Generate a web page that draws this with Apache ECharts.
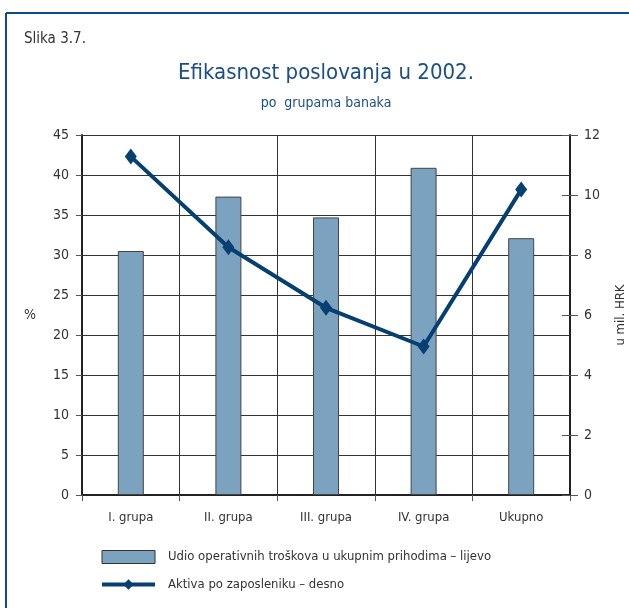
<!DOCTYPE html>
<html>
<head>
<meta charset="utf-8">
<script src="https://cdn.jsdelivr.net/npm/echarts@6/dist/echarts.min.js"></script>
<style>
html,body{margin:0;padding:0;background:#fff;}
#c{width:629px;height:608px;}
</style>
</head>
<body>
<div id="c"></div>
<script>
var categories = ['I. grupa', 'II. grupa', 'III. grupa', 'IV. grupa', 'Ukupno'];
var costShare = [30.5, 37.3, 34.7, 40.9, 32.1];
var assetsPerEmployee = [11.28, 8.26, 6.24, 4.95, 10.18];
var leftTicks = [0, 45, 5];
var rightTicks = [0, 12, 2];

var FONT = '"Liberation Sans Narrow", "DejaVu Sans Condensed", sans-serif';
var chart = echarts.init(document.getElementById('c'), null, {renderer: 'canvas'});
chart.setOption({
  animation: false,
  backgroundColor: '#fff',
  textStyle: {fontFamily: FONT},
  title: [
    {text: 'Slika 3.7.', left: 19, top: 27, textStyle: {fontFamily: FONT, fontSize: 15, fontWeight: 'normal', color: '#333'}},
    {text: 'Efikasnost poslovanja u 2002.', left: 321, textAlign: 'center', top: 57,
     textStyle: {fontFamily: FONT, fontSize: 22, fontWeight: 'normal', color: '#1a4f86'}},
    {text: 'po  grupama banaka', left: 321, textAlign: 'center', top: 91,
     textStyle: {fontFamily: FONT, fontSize: 14, fontWeight: 'normal', color: '#1a4f86'}}
  ],
  graphic: [
    {type: 'line', shape: {x1: 6, y1: 13, x2: 629, y2: 13}, style: {stroke: '#0d4a8a', lineWidth: 2}},
    {type: 'line', shape: {x1: 6, y1: 13, x2: 6, y2: 608}, style: {stroke: '#0d4a8a', lineWidth: 2}}
  ],
  grid: {left: 82, right: 59, top: 135, bottom: 113, show: false, containLabel: false, outerBoundsMode: 'none'},
  legend: {
    orient: 'vertical', left: 95, top: 545, itemWidth: 53, itemHeight: 13, itemGap: 14,
    textStyle: {fontFamily: FONT, fontSize: 13, color: '#333', padding: [0, 0, 0, 8]},
    data: [
      {name: 'Udio operativnih troškova u ukupnim prihodima – lijevo', icon: 'rect',
       itemStyle: {borderWidth: 1, borderColor: '#333'}},
      {name: 'Aktiva po zaposleniku – desno', lineStyle: {width: 4, color: '#063f72'}}
    ]
  },
  xAxis: {
    type: 'category', data: categories,
    axisLine: {lineStyle: {color: '#222', width: 2}},
    axisTick: {show: true, inside: false, length: 6, lineStyle: {color: '#555'}},
    axisLabel: {fontFamily: FONT, fontSize: 13, color: '#333', margin: 16},
    splitLine: {show: true, lineStyle: {color: '#333', width: 1}}
  },
  yAxis: [
    {
      type: 'value', min: leftTicks[0], max: leftTicks[1], interval: leftTicks[2],
      name: '%', nameLocation: 'middle', nameRotate: 0, nameGap: 46,
      nameTextStyle: {fontFamily: FONT, fontSize: 14, color: '#333'},
      axisLine: {show: true, lineStyle: {color: '#222', width: 2}},
      axisTick: {show: true, length: 6, lineStyle: {color: '#555'}},
      axisLabel: {fontFamily: FONT, fontSize: 14, color: '#333', margin: 13},
      splitLine: {show: true, lineStyle: {color: '#333', width: 1}}
    },
    {
      type: 'value', position: 'right', min: rightTicks[0], max: rightTicks[1], interval: rightTicks[2],
      name: 'u mil. HRK', nameLocation: 'middle', nameRotate: 90, nameGap: 44,
      nameTextStyle: {fontFamily: FONT, fontSize: 13, color: '#333'},
      axisLine: {show: true, lineStyle: {color: '#222', width: 2}},
      axisTick: {show: true, length: 8, lineStyle: {color: '#555'}},
      axisLabel: {fontFamily: FONT, fontSize: 14, color: '#333', margin: 14},
      splitLine: {show: false}
    },
    {
      type: 'value', position: 'right', min: rightTicks[0], max: rightTicks[1], interval: rightTicks[2],
      axisLine: {show: false},
      axisTick: {show: true, inside: true, length: 8, lineStyle: {color: '#555'}},
      axisLabel: {show: false},
      splitLine: {show: false}
    }
  ],
  series: [
    {
      name: 'Udio operativnih troškova u ukupnim prihodima – lijevo',
      type: 'bar', yAxisIndex: 0, data: costShare, barWidth: 26,
      itemStyle: {color: '#7ba3bf', borderColor: '#444', borderWidth: 1}
    },
    {
      name: 'Aktiva po zaposleniku – desno',
      type: 'line', yAxisIndex: 1, data: assetsPerEmployee,
      symbol: 'diamond', symbolSize: [12, 16],
      lineStyle: {color: '#063f72', width: 4},
      itemStyle: {color: '#063f72'}
    }
  ]
});
</script>
</body>
</html>
